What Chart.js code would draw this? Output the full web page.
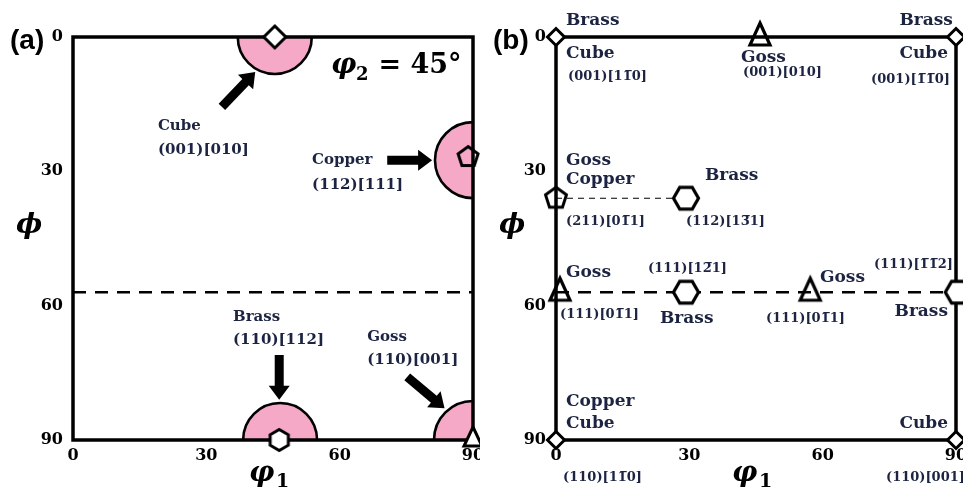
<!DOCTYPE html>
<html><head><meta charset="utf-8">
<script src="https://cdn.jsdelivr.net/npm/chart.js@4"></script>
<style>
html,body{margin:0;padding:0;background:#fff;width:963px;height:487px;overflow:hidden}
canvas{position:absolute;top:0}
#ca{left:0}#cb{left:483px}
</style></head><body>
<canvas id="ca" width="480" height="487"></canvas>
<canvas id="cb" width="480" height="487"></canvas>
<script>
// ---------- tick labels ----------
const phi1Ticks = [0, 30, 60, 90];
const phiTicks  = [0, 30, 60, 90];

// ---------- panel (a): phi2 = 45 deg ----------
const aRegions = [{x:45.4,y:0},{x:90,y:27.5},{x:46.6,y:90},{x:90,y:90}];
const aCube    = [{x:45.4,y:0}];
const aCopper  = [{x:88.9,y:26.8}];
const aBrass   = [{x:46.4,y:90}];
const aGoss    = [{x:90,y:90}];
const aFiber   = [{x:0,y:57},{x:90,y:57}];
const aArrows  = [[33.5,15.6,41.0,7.8],[70.7,27.5,80.8,27.5],[46.4,71.0,46.4,81.0],[75.2,75.9,83.6,82.9]];
const aLabels  = [
  ['Cube',19.1,19.9],['(001)[010]',19.1,25.2],
  ['Copper',53.8,27.6],['(112)[111]',53.8,33.1],
  ['Brass',36.0,62.6],['(110)[112]',36.0,67.6],
  ['Goss',66.2,67.1],['(110)[001]',66.2,72.2]
];

// ---------- panel (b) ----------
const bCube    = [{x:0,y:0},{x:90,y:0},{x:0,y:90},{x:90,y:90}];
const bGoss    = [{x:45.9,y:0},{x:0.9,y:57},{x:57.2,y:57}];
const bCopper  = [{x:0,y:36}];
const bBrass   = [{x:29.25,y:36},{x:29.25,y:57},{x:90.4,y:57}];
const bFiber   = [{x:0,y:57},{x:90,y:57}];
const bLink    = [{x:0,y:36},{x:29.25,y:36}];
const bNames = [
  ['Brass',2.25,-3.6,'left'],['Cube',2.25,3.8,'left'],
  ['Goss',41.6,4.5,'left'],
  ['Brass',89.3,-3.6,'right'],['Cube',88.2,3.8,'right'],
  ['Goss',2.25,27.7,'left'],['Copper',2.25,31.9,'left'],
  ['Brass',33.5,31.0,'left'],
  ['Goss',2.25,52.7,'left'],['Goss',59.4,53.8,'left'],
  ['Brass',23.4,62.8,'left'],['Brass',88.2,61.4,'right'],
  ['Copper',2.25,81.5,'left'],['Cube',2.25,86.4,'left'],['Cube',88.2,86.4,'right']
];
const B = '\u0305';
const bIndices = [
  ['(001)[11'+B+'0]',2.7,8.9,'left'],
  ['(001)[010]',42.1,8.0,'left'],
  ['(001)[1'+B+'1'+B+'0]',88.65,9.6,'right'],
  ['(211)[01'+B+'1]',2.25,41.3,'left'],
  ['(112)[13'+B+'1]',29.25,41.3,'left'],
  ['(111)[12'+B+'1]',20.7,51.8,'left'],
  ['(111)[1'+B+'1'+B+'2]',89.3,50.9,'right'],
  ['(111)[01'+B+'1]',0.9,61.9,'left'],
  ['(111)[01'+B+'1]',47.25,62.8,'left'],
  ['(110)[11'+B+'0]',1.6,98.3,'left'],
  ['(110)[001]',74.25,98.3,'left']
];

// ---------- styling helpers ----------
const NAVY = '#1c2442';
const PINK = '#f6a9c7';
const SERIF = '"DejaVu Serif", serif';

function regular(n, r, startDeg){
  const a=[]; for(let k=0;k<n;k++){const t=(startDeg+k*360/n)*Math.PI/180; a.push([r*Math.cos(t), r*Math.sin(t)]);} return a;
}
function makeMarker(pts, lw, fill){
  let m=0; pts.forEach(p=>{m=Math.max(m,Math.abs(p[0]),Math.abs(p[1]));});
  const S=2*Math.ceil(m+lw+1);
  const c=document.createElement('canvas'); c.width=S; c.height=S;
  const g=c.getContext('2d'); g.translate(S/2,S/2);
  g.beginPath(); pts.forEach((p,i)=>i?g.lineTo(p[0],p[1]):g.moveTo(p[0],p[1])); g.closePath();
  if(fill){g.fillStyle=fill; g.fill();}
  g.lineWidth=lw; g.lineJoin='miter'; g.strokeStyle='#000'; g.stroke();
  return c;
}
const mk = {
  aDiamond: makeMarker(regular(4,11,-90),3,'#fff'),
  aPent: makeMarker(regular(5,10.5,-90),3,null),
  aHex: makeMarker(regular(6,10.5,-90),3,'#fff'),
  aTri: makeMarker([[0,-13],[9,6],[-9,6]],3,'#fff'),
  bDiamond: makeMarker(regular(4,8.5,-90),3,'#fff'),
  bTri: makeMarker([[0,-14],[10,8],[-10,8]],3.2,null),
  bPent: makeMarker(regular(5,11,-90),3,null),
  bHex: makeMarker(regular(6,12.5,0),3.2,'#fff')
};

function markerSet(data, style){
  return {data, pointStyle: style, pointRadius: 10, pointHoverRadius: 10, clip: false, order: 1};
}
function lineSet(data, width, dash){
  return {data, showLine: true, pointRadius: 0, borderColor: '#000', borderWidth: width, borderDash: dash, order: 2};
}

function axes(){
  const tickFont = {family: SERIF, weight: 'bold', size: 16};
  return {
    x: {type:'linear', min:0, max:90, position:'bottom',
        afterBuildTicks: s => { s.ticks = phi1Ticks.map(v => ({value: v})); },
        afterFit: s => { s.height = 47; s.paddingLeft = 0; s.paddingRight = 0; },
        grid: {display:false, drawTicks:false}, border: {display:false},
        ticks: {font: tickFont, color:'#000', padding: 6, maxRotation: 0, autoSkip: false}},
    y: {type:'linear', min:0, max:90, reverse:true, position:'left',
        afterBuildTicks: s => { s.ticks = phiTicks.map(v => ({value: v})); },
        afterFit: s => { s.width = 32; s.paddingTop = 0; s.paddingBottom = 0; },
        grid: {display:false, drawTicks:false}, border: {display:false},
        ticks: {font: tickFont, color:'#000', padding: 10, autoSkip: false}}
  };
}

function drawFrame(chart){
  const {ctx, chartArea: a} = chart;
  ctx.save(); ctx.lineWidth = 3.5; ctx.strokeStyle = '#000';
  ctx.strokeRect(a.left, a.top, a.right - a.left, a.bottom - a.top); ctx.restore();
}
function drawLabels(chart, list, size, color){
  const {ctx, scales:{x, y}} = chart;
  ctx.save(); ctx.font = `bold ${size}px ${SERIF}`; ctx.fillStyle = color; ctx.textBaseline = 'middle';
  list.forEach(([t, vx, vy, al]) => { ctx.textAlign = al || 'left'; ctx.fillText(t, x.getPixelForValue(vx), y.getPixelForValue(vy)); });
  ctx.restore();
}
function drawArrow(ctx, x1, y1, x2, y2, sw, hw, hl){
  const ang = Math.atan2(y2-y1, x2-x1), len = Math.hypot(x2-x1, y2-y1);
  ctx.save(); ctx.translate(x1, y1); ctx.rotate(ang);
  ctx.beginPath(); ctx.moveTo(0,-sw/2); ctx.lineTo(len-hl,-sw/2); ctx.lineTo(len-hl,-hw/2); ctx.lineTo(len,0);
  ctx.lineTo(len-hl,hw/2); ctx.lineTo(len-hl,sw/2); ctx.lineTo(0,sw/2); ctx.closePath();
  ctx.fillStyle = '#000'; ctx.fill(); ctx.restore();
}
function drawTitles(chart, letter){
  const {ctx, chartArea: a} = chart;
  ctx.save(); ctx.fillStyle = '#000'; ctx.textBaseline = 'alphabetic'; ctx.textAlign = 'left';
  ctx.font = 'bold 28px "Liberation Sans", Arial, sans-serif';
  ctx.fillText(letter, 10, 49);
  ctx.font = `italic bold 28px ${SERIF}`;
  ctx.fillText('\u03D5', a.left - 57, 233);
  const cx = (a.left + a.right) / 2;
  ctx.fillText('\u03C6', cx - 24, 481);
  ctx.font = `bold 19px ${SERIF}`;
  ctx.fillText('1', cx + 3, 487);
  ctx.restore();
}

function makeChart(id, datasets, opts){
  return new Chart(document.getElementById(id), {
    type: 'scatter',
    data: {datasets},
    options: {
      responsive: false, animation: false, events: [], devicePixelRatio: 1,
      layout: {autoPadding: false, padding: {left: 41, top: 37, right: 7, bottom: 0}},
      plugins: {legend: {display: false}, tooltip: {enabled: false}},
      scales: axes()
    },
    plugins: [{
      id: 'deco',
      beforeDatasetsDraw(chart){ if (!opts.regions) drawFrame(chart); },
      afterDatasetDraw(chart, args){ if (chart.data.datasets[args.index].isRegion) drawFrame(chart); },
      afterDraw(chart){ opts.after(chart); }
    }]
  });
}

// ---------- chart (a) ----------
makeChart('ca', [
  markerSet(aCube, mk.aDiamond),
  markerSet(aCopper, mk.aPent),
  markerSet(aBrass, mk.aHex),
  markerSet(aGoss, mk.aTri),
  lineSet(aFiber, 2.6, [13, 9]),
  {data: aRegions, isRegion: true, pointStyle: 'circle', pointRadius: [37, 38, 37, 39], pointHoverRadius: [37, 38, 37, 39],
   pointBackgroundColor: PINK, pointBorderColor: '#000', pointBorderWidth: 2.6, clip: 0, order: 3}
], {regions: true, after(chart){
  const {ctx, scales:{x, y}} = chart;
  aArrows.forEach(([x1,y1,x2,y2]) => drawArrow(ctx, x.getPixelForValue(x1), y.getPixelForValue(y1), x.getPixelForValue(x2), y.getPixelForValue(y2), 9, 21, 14));
  drawLabels(chart, aLabels, 15, NAVY);
  drawTitles(chart, '(a)');
  ctx.save(); ctx.fillStyle = '#000'; ctx.textBaseline = 'alphabetic'; ctx.textAlign = 'left';
  ctx.font = `italic bold 28px ${SERIF}`; ctx.fillText('\u03C6', 331, 73);
  ctx.font = `bold 18px ${SERIF}`; ctx.fillText('2', 356, 80);
  ctx.font = `bold 27px ${SERIF}`; ctx.fillText(' = 45\u00B0', 369, 73);
  ctx.restore();
}});

// ---------- chart (b) ----------
makeChart('cb', [
  markerSet(bCube, mk.bDiamond),
  markerSet(bGoss, mk.bTri),
  markerSet(bCopper, mk.bPent),
  markerSet(bBrass, mk.bHex),
  lineSet(bFiber, 2.6, [13, 9]),
  lineSet(bLink, 1.1, [6, 5])
], {regions: false, after(chart){
  drawLabels(chart, bNames, 17, NAVY);
  drawLabels(chart, bIndices, 13, NAVY);
  drawTitles(chart, '(b)');
}});
</script>
</body></html>
